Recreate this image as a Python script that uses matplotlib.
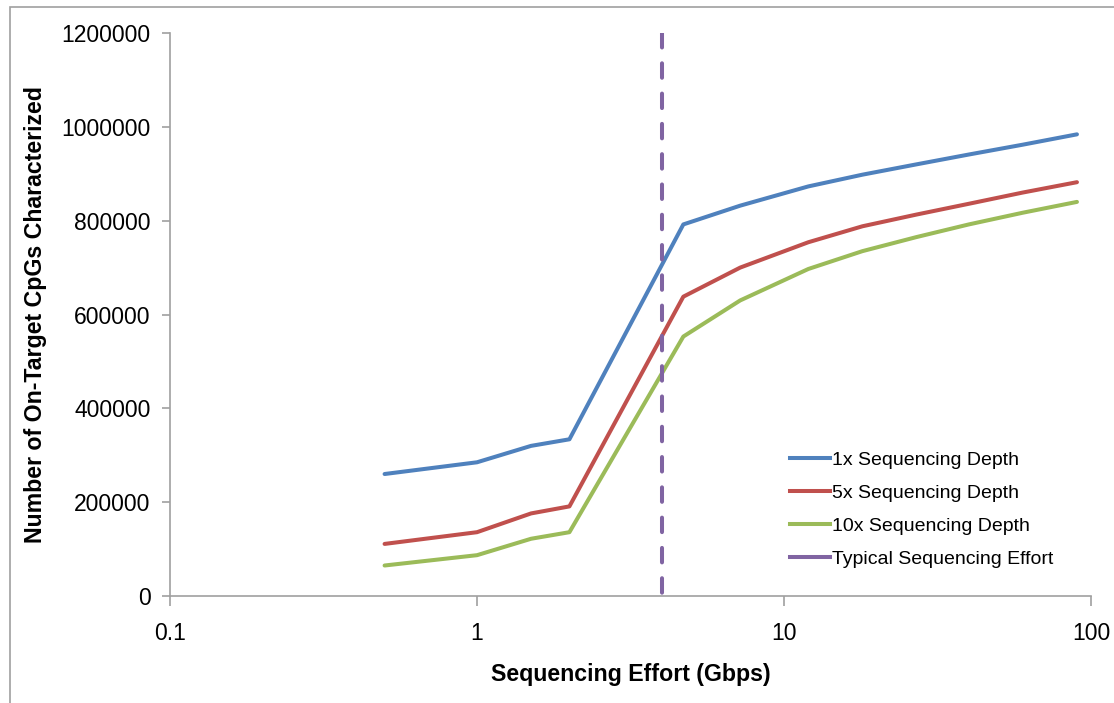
import numpy as np
import matplotlib
matplotlib.use("Agg")
import matplotlib.pyplot as plt
from matplotlib.patches import Rectangle
from matplotlib.lines import Line2D

plt.rcParams['font.family'] = ['Liberation Sans', 'DejaVu Sans']

# sequencing effort (Gbps) and CpGs characterized
effort = [0.5, 1, 1.5, 2, 4.7, 7.2, 12, 18, 27, 40, 60, 90]
depth_1x = [260000, 285000, 320000, 334000, 792000, 832000, 873000, 898000,
            920000, 941000, 962000, 984000]
depth_5x = [111000, 136000, 176000, 191000, 638000, 700000, 754000, 788000,
            813000, 836000, 860000, 882000]
depth_10x = [65000, 87000, 122000, 136000, 553000, 630000, 697000, 735000,
             765000, 792000, 817000, 840000]
typical_effort = 4.0

series = [("1x Sequencing Depth", depth_1x, "#4F81BD"),
          ("5x Sequencing Depth", depth_5x, "#C0504D"),
          ("10x Sequencing Depth", depth_10x, "#9BBB59")]
purple = "#8064A2"

fig = plt.figure(figsize=(11.14, 7.03), dpi=100)
ax = fig.add_axes([170/1114, 107/703, 921/1114, 563/703])

# outer chart border (partly cropped in original)
fig.patches.append(Rectangle((10/1114, -0.1), 1.2, (703-7)/703 + 0.1,
                             transform=fig.transFigure, fill=False,
                             edgecolor="#A0A0A0", lw=1.2))

handles = []
for name, vals, col in series:
    ax.plot(effort, vals, color=col, lw=2.9, solid_capstyle="round")
    handles.append(Line2D([], [], color=col, lw=2.9, label=name))

# dashes drawn from the top down so a dash begins at the top of the axes
ax.plot([typical_effort, typical_effort], [1200000, 0], color=purple, lw=2.9,
        ls=(0, (3.6, 3.92)), dash_capstyle="round")
handles.append(Line2D([], [], color=purple, lw=2.9, label="Typical Sequencing Effort"))

ax.set_xscale("log")
ax.set_xlim(0.1, 100)
ax.set_ylim(0, 1200000)
ax.set_xticks([0.1, 1, 10, 100])
ax.set_xticklabels(["0.1", "1", "10", "100"])
ax.minorticks_off()
ax.set_yticks(np.arange(0, 1200001, 200000))
ax.set_yticklabels([str(v) for v in range(0, 1200001, 200000)])

for s in ["top", "right"]:
    ax.spines[s].set_visible(False)
for s in ["left", "bottom"]:
    ax.spines[s].set_color("#A0A0A0")
    ax.spines[s].set_linewidth(1.2)
ax.tick_params(axis="both", direction="out", color="#A0A0A0", width=1.2,
               labelsize=16.5, labelcolor="black")
ax.tick_params(axis="y", length=6, pad=8)
ax.tick_params(axis="x", length=7, pad=12)

ax.set_xlabel("Sequencing Effort (Gbps)", fontsize=16.7, fontweight="bold", labelpad=13)
ax.set_ylabel("Number of On-Target CpGs Characterized", fontsize=16.7,
              fontweight="bold", labelpad=10)

leg = ax.legend(handles=handles, loc="upper left",
                bbox_to_anchor=((790-170)/921, (596-451)/563),
                borderaxespad=0, borderpad=0, frameon=False,
                fontsize=14, handlelength=2.05, handletextpad=0.12,
                labelspacing=0.8)

fig.savefig("out.png", dpi=100)
